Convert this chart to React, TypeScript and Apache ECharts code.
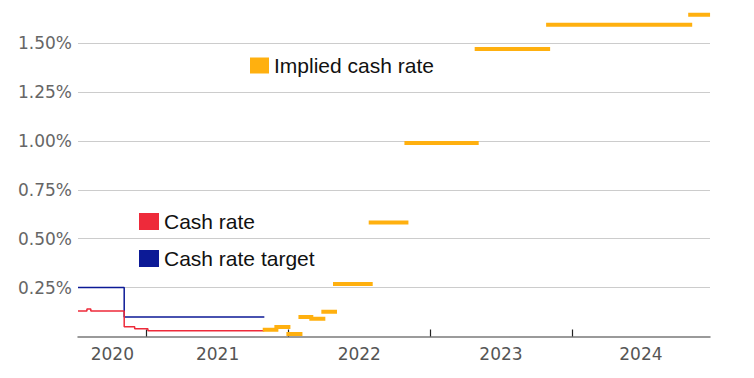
import React, { useEffect, useRef } from "react";
import * as echarts from "echarts";

// Cash rate (actual), step changes: [date, value %]
const cashRateDates = ["2020-07-08", "2020-07-31", "2020-08-10", "2020-11-04", "2020-12-01", "2021-01-04", "2021-10-31"];
const cashRateValues = [0.13, 0.14, 0.13, 0.05, 0.04, 0.03, 0.03];

// Cash rate target, step changes
const targetDates = ["2020-07-08", "2020-11-04", "2021-10-31"];
const targetValues = [0.25, 0.1, 0.1];

// Implied cash rate: period starts / ends and values
const impliedStarts = ["2021-11-01", "2021-12-01", "2022-01-01", "2022-02-01", "2022-03-01", "2022-04-01", "2022-05-01", "2022-08-01", "2022-11-01", "2023-05-01", "2023-11-01", "2024-11-01"];
const impliedEnds = ["2021-12-01", "2022-01-01", "2022-02-01", "2022-03-01", "2022-04-01", "2022-05-01", "2022-08-01", "2022-11-01", "2023-05-01", "2023-11-01", "2024-11-01", "2024-12-17"];
const impliedValues = [0.035, 0.048, 0.013, 0.1, 0.091, 0.127, 0.268, 0.583, 0.989, 1.47, 1.593, 1.644];

// Axis
const xMinDate = "2020-07-08";
const xMaxDate = "2024-12-22";
const yMax = 1.72;
const yearTicks = [2021, 2022, 2023, 2024];
const yearLabels = [2020, 2021, 2022, 2023, 2024];

const ts = (d: string) => Date.parse(d);

export default function App() {
  const ref = useRef<HTMLDivElement>(null);
  useEffect(() => {
    if (!ref.current) return;
    const chart = echarts.init(ref.current, undefined, { renderer: "svg" });
    const xMin = ts(xMinDate);
    const xMax = ts(xMaxDate);
    const tickVals = yearTicks.map((y) => Date.UTC(y, 0, 1));
    const labelVals = yearLabels.map((y) => {
      const a = Math.max(Date.UTC(y, 0, 1), xMin);
      const b = Math.min(Date.UTC(y + 1, 0, 1), xMax);
      return (a + b) / 2;
    });
    const impliedData: any[] = [];
    impliedStarts.forEach((s, i) => {
      impliedData.push([ts(s), impliedValues[i]]);
      impliedData.push([ts(impliedEnds[i]), impliedValues[i]]);
      impliedData.push([ts(impliedEnds[i]), "-"]);
    });
    const legendText = { fontSize: 21, fontFamily: "Liberation Sans, Arial, sans-serif", color: "#111", lineHeight: 20 };
    chart.setOption({
      animation: false,
      grid: { left: 78, right: 44, top: 0, bottom: 41.5, containLabel: false },
      legend: [
        { data: ["Implied cash rate"], left: 250, top: 55, padding: 0, icon: "rect", itemWidth: 19, itemHeight: 16, textStyle: legendText },
        { data: ["Cash rate"], left: 139, top: 211, padding: 0, icon: "rect", itemWidth: 20, itemHeight: 17, textStyle: legendText },
        { data: ["Cash rate target"], left: 139, top: 248, padding: 0, icon: "rect", itemWidth: 20, itemHeight: 17, textStyle: legendText },
      ],
      xAxis: {
        type: "value",
        min: xMin,
        max: xMax,
        axisLine: { show: true, lineStyle: { color: "#7a7a7a", width: 1.5 } },
        axisTick: { show: true, inside: true, length: 7, customValues: tickVals, lineStyle: { color: "#222", width: 1.2 } },
        axisLabel: {
          customValues: labelVals,
          formatter: (v: number) => String(new Date(v).getUTCFullYear()),
          fontSize: 17,
          fontFamily: "DejaVu Sans, Verdana, sans-serif",
          color: "#555",
          margin: 9,
        },
        splitLine: { show: false },
      },
      yAxis: {
        type: "value",
        min: 0,
        max: yMax,
        interval: 0.25,
        axisLine: { show: false },
        axisTick: { show: false },
        axisLabel: {
          showMinLabel: false,
          showMaxLabel: false,
          formatter: (v: number) => v.toFixed(2) + "%",
          fontSize: 17,
          fontFamily: "DejaVu Sans, Verdana, sans-serif",
          color: "#666",
          margin: 6,
        },
        splitLine: { showMaxLine: false, showMinLine: false, lineStyle: { color: "#cccccc", width: 1 } },
      },
      series: [
        {
          name: "Cash rate target",
          type: "line",
          step: "end",
          symbol: "none",
          data: targetDates.map((d, i) => [ts(d), targetValues[i]]),
          lineStyle: { color: "#0c1a96", width: 1.5 },
          itemStyle: { color: "#0c1a96" },
        },
        {
          name: "Cash rate",
          type: "line",
          step: "end",
          symbol: "none",
          data: cashRateDates.map((d, i) => [ts(d), cashRateValues[i]]),
          lineStyle: { color: "#ee2a3a", width: 1.5 },
          itemStyle: { color: "#ee2a3a" },
        },
        {
          name: "Implied cash rate",
          type: "line",
          symbol: "none",
          connectNulls: false,
          data: impliedData,
          lineStyle: { color: "#ffb00f", width: 4, cap: "square" },
          itemStyle: { color: "#ffb00f" },
        },
      ],
    });
    return () => chart.dispose();
  }, []);
  return <div ref={ref} style={{ position: "absolute", left: 0, top: 0, width: 754, height: 378 }} />;
}
